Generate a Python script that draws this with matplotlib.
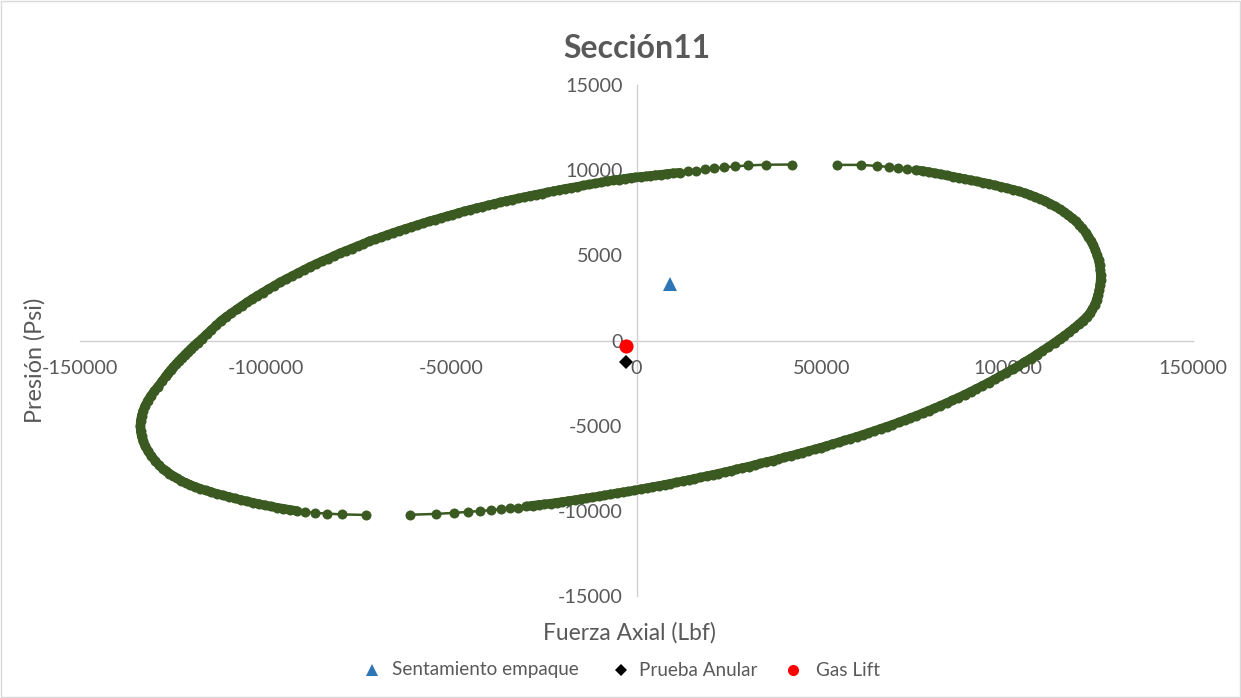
import numpy as np
import matplotlib
matplotlib.use("Agg")
import matplotlib.pyplot as plt
from matplotlib.lines import Line2D
from matplotlib.collections import LineCollection

# Design envelope, left branch (axial force lbf, pressure psi)
env_left_x = [41830, 34820, 30130, 26630, 23580, 20970, 18540, 16170, 13880, 11720,
              9760, 8140, 6600, 5120, 3770, 2430, 1080, -270,
              -1600, -3200, -4800, -6400, -8000, -9600, -11200, -12800, -14400, -16000,
              -17600, -19200, -20800, -22400, -24000, -25600, -27200, -28800, -30400, -32000,
              -33600, -35200, -36800, -38400, -40000, -41600, -43200, -44800, -46400, -48000,
              -49600, -51200, -52800, -54400, -56000, -57600, -59200, -60800, -62400, -64000,
              -65600, -67200, -68800, -70400, -72000, -73600, -75200, -76800, -78400, -80000,
              -81600, -83200, -84800, -86400, -88000, -89600, -91200, -92800, -94400, -96000,
              -97600, -99200, -100800, -102200, -103600, -105000, -106400, -107800, -109200, -110600,
              -112000, -113300, -114600, -115900, -117200, -118300,
              -119330, -120180, -121020, -121800, -122610, -123370, -124120, -124840, -125550, -126200,
              -126820, -127840, -128970, -129970, -130940, -131780, -132480, -133020, -133420, -133670,
              -133740, -133670, -133420, -132990, -132430, -131670, -130750, -129680, -128710, -127760,
              -126820, -125880, -124930, -123860, -122780, -121560, -120350, -119000, -117650, -116170,
              -114690, -113070, -111450, -109840, -108220, -106600, -104990, -103370, -101750, -100140,
              -98520, -96900, -95150, -93400, -91510, -89350, -86660, -83340, -79460, -72990]
env_left_y = [10330, 10320, 10280, 10220, 10170, 10100, 10050, 9980, 9940, 9860,
              9820, 9780, 9740, 9710, 9670, 9640, 9610, 9580,
              9550, 9500, 9450, 9410, 9350, 9280, 9220, 9160, 9100, 9030,
              8970, 8910, 8840, 8770, 8700, 8630, 8560, 8490, 8410, 8340,
              8270, 8190, 8110, 8020, 7940, 7850, 7770, 7680, 7590, 7490,
              7390, 7290, 7190, 7090, 6990, 6880, 6770, 6660, 6550, 6440,
              6320, 6200, 6070, 5950, 5830, 5680, 5540, 5400, 5260, 5120,
              4960, 4800, 4650, 4490, 4330, 4150, 3970, 3790, 3610, 3430,
              3220, 3020, 2810, 2630, 2440, 2240, 2030, 1820, 1600, 1390,
              1150, 890, 620, 360, 90, -120,
              -320, -500, -680, -850, -1030, -1200, -1380, -1560, -1730, -1910,
              -2080, -2380, -2710, -2970, -3260, -3550, -3850, -4140, -4440, -4730,
              -5020, -5310, -5610, -5900, -6190, -6490, -6780, -7080, -7310, -7520,
              -7650, -7810, -7950, -8090, -8220, -8350, -8470, -8580, -8690, -8800,
              -8890, -9000, -9090, -9180, -9270, -9360, -9440, -9520, -9600, -9670,
              -9740, -9810, -9870, -9940, -10000, -10060, -10120, -10160, -10210, -10240]

# Design envelope, right branch
env_right_x = [53960, 60430, 64740, 68060, 70490, 72990, 75260, 77220,
               78840, 80460, 82070, 83690, 85310, 86930, 88540, 90160, 91780, 93400,
               95010, 96630, 98250, 99870, 101480, 103100, 104720, 106060, 107410, 108760,
               110110, 111460, 112800, 114150, 115230, 116310, 117380, 118330, 119270, 120210,
               121080, 121830, 122510, 123130, 123670, 124120, 124530, 124820, 125010, 125090,
               125070, 124930, 124720, 124390, 123990, 123530, 122910, 122160, 121320, 120350,
               119140, 117920, 116660, 115360, 114020, 112670, 111050, 109430, 107820, 106200,
               104580, 102960, 101350, 99730, 98110, 96500, 94880, 93260, 91640, 90030,
               88410, 86790, 85170, 83560, 81940, 80320, 78710, 77090, 75470, 73850,
               72240, 70620, 69000, 67390, 65770, 64150, 62530, 60920, 59300, 57680,
               56060, 54450, 52830, 51210, 49600, 47980, 46360, 44740, 43130, 41510,
               39890, 38270, 36660, 35040, 33420, 31810, 30190, 28570, 26950, 25340,
               23720, 22100, 20490, 18870, 17250, 15630, 14020, 12400, 10780, 9160,
               7550, 5930, 4310, 2700, 1080, -540, -2160, -3770, -5390, -7010,
               -8630, -10240, -11860, -13480, -15090, -16710, -18330, -19950, -21560, -23180,
               -24800, -26410, -28030, -29650, -31860, -34100, -36520, -39300, -42180, -45340,
               -49190, -54040, -61050]
env_right_y = [10310, 10310, 10250, 10190, 10130, 10070, 10010, 9950,
               9890, 9820, 9760, 9690, 9620, 9550, 9480, 9410, 9340, 9270,
               9200, 9110, 9030, 8940, 8860, 8760, 8650, 8550, 8440, 8320,
               8190, 8040, 7880, 7700, 7550, 7380, 7190, 7020, 6810, 6580,
               6340, 6090, 5840, 5580, 5310, 5020, 4730, 4430, 4140, 3850,
               3550, 3260, 2970, 2670, 2380, 2110, 1850, 1590, 1380, 1170,
               940, 720, 500, 290, 80, -130, -370, -600, -830, -1060,
               -1270, -1490, -1690, -1890, -2080, -2280, -2470, -2650, -2830, -3010,
               -3180, -3350, -3510, -3670, -3820, -3980, -4120, -4270, -4410, -4540,
               -4680, -4810, -4940, -5060, -5180, -5300, -5420, -5540, -5650, -5760,
               -5870, -5980, -6080, -6190, -6290, -6390, -6490, -6580, -6680, -6770,
               -6860, -6960, -7050, -7130, -7220, -7310, -7400, -7480, -7560, -7650,
               -7730, -7810, -7890, -7960, -8040, -8110, -8190, -8260, -8330, -8400,
               -8470, -8540, -8600, -8670, -8730, -8800, -8860, -8910, -8970, -9030,
               -9090, -9150, -9210, -9260, -9310, -9370, -9420, -9470, -9520, -9570,
               -9610, -9650, -9690, -9740, -9810, -9860, -9910, -9960, -10010, -10060,
               -10120, -10180, -10230]

# Load cases
sentamiento_x = [9030]
sentamiento_y = [3290]
prueba_x = [-2960]
prueba_y = [-1240]
gaslift_x = [-2960]
gaslift_y = [-330]

x_ticks = [-150000, -100000, -50000, 0, 50000, 100000, 150000]
y_ticks = [-15000, -10000, -5000, 0, 5000, 10000, 15000]

title = "Sección11"
x_title = "Fuerza Axial (Lbf)"
y_title = "Presión (Psi)"
legend_labels = ["Sentamiento empaque", "Prueba Anular", "Gas Lift"]

GREEN = "#3A5A22"
GRAY_TXT = "#595959"
AXIS_GRAY = "#D0D0D0"
FONT = ["Lato", "DejaVu Sans"]

plt.rcParams["font.family"] = FONT

W, H = 1241, 698
fig = plt.figure(figsize=(W / 100, H / 100), dpi=100)
fig.patch.set_facecolor("white")

ax = fig.add_axes([80 / W, (H - 596) / H, 1113 / W, 511 / H])
ax.set_xlim(-150000, 150000)
ax.set_ylim(-15000, 15000)
ax.set_facecolor("none")

for side in ("top", "right"):
    ax.spines[side].set_visible(False)
for side in ("left", "bottom"):
    ax.spines[side].set_position(("data", 0))
    ax.spines[side].set_color(AXIS_GRAY)
    ax.spines[side].set_linewidth(1.0)
    ax.spines[side].set_zorder(1)

ax.set_xticks(x_ticks)
ax.set_yticks(y_ticks)
ax.set_xticklabels([str(v) for v in x_ticks])
ax.set_yticklabels([str(v) for v in y_ticks])
ax.tick_params(axis="both", length=0, labelsize=14.2, labelcolor=GRAY_TXT)
ax.tick_params(axis="x", pad=14)
ax.tick_params(axis="y", pad=10)


def draw_branch(xs, ys):
    xs = np.asarray(xs, dtype=float)
    ys = np.asarray(ys, dtype=float)
    # closely spaced samples merge into a continuous band
    pts = ax.transData.transform(np.column_stack([xs, ys]))
    step = np.hypot(np.diff(pts[:, 0]), np.diff(pts[:, 1]))
    dense = [[(xs[i], ys[i]), (xs[i + 1], ys[i + 1])]
             for i in range(len(xs) - 1) if step[i] < 7.8]
    if dense:
        ax.add_collection(LineCollection(dense, colors=GREEN, linewidths=6.6,
                                         capstyle="round", zorder=3))
    ax.plot(xs, ys, color=GREEN, lw=1.8, marker="o", markersize=7.2,
            markeredgewidth=0, zorder=4, solid_capstyle="round")


draw_branch(env_left_x, env_left_y)
draw_branch(env_right_x, env_right_y)

ax.plot(sentamiento_x, sentamiento_y, linestyle="none", marker="^", markersize=10.5,
        color="#2E75B6", markeredgewidth=0, zorder=5)
ax.plot(prueba_x, prueba_y, linestyle="none", marker="D", markersize=7.2,
        color="black", markeredgewidth=0, zorder=5)
ax.plot(gaslift_x, gaslift_y, linestyle="none", marker="o", markersize=10.2,
        color="#FF0000", markeredgewidth=0, zorder=6)

# Titles
fig.text(637 / W, 1 - 48 / H, title, ha="center", va="center", fontsize=23,
         fontweight="bold", color=GRAY_TXT)
fig.text(629 / W, 1 - 633 / H, x_title, ha="center", va="center", fontsize=16.4,
         color=GRAY_TXT)
fig.text(35 / W, 1 - 360 / H, y_title, ha="center", va="center", fontsize=16.8,
         color=GRAY_TXT, rotation=90)

# Legend
leg_y = 1 - 670 / H
legend_items = [
    (371.7, 391.7, dict(marker="^", color="#2E75B6", markersize=8.5)),
    (621.0, 639.0, dict(marker="D", color="black", markersize=6.2)),
    (793.0, 816.0, dict(marker="o", color="#FF0000", markersize=8.0)),
]
for (mx, tx, style), label in zip(legend_items, legend_labels):
    fig.add_artist(Line2D([mx / W], [leg_y], transform=fig.transFigure,
                          linestyle="none", markeredgewidth=0, **style))
    fig.text(tx / W, leg_y, label, ha="left", va="center", fontsize=13.6,
             color=GRAY_TXT)

# Chart frame
fig.add_artist(plt.Rectangle((1 / W, 1 / H), (W - 2) / W, (H - 2) / H,
                             transform=fig.transFigure, fill=False,
                             edgecolor="#D9D9D9", linewidth=1.0))

fig.savefig("out.png", dpi=100, facecolor="white")
